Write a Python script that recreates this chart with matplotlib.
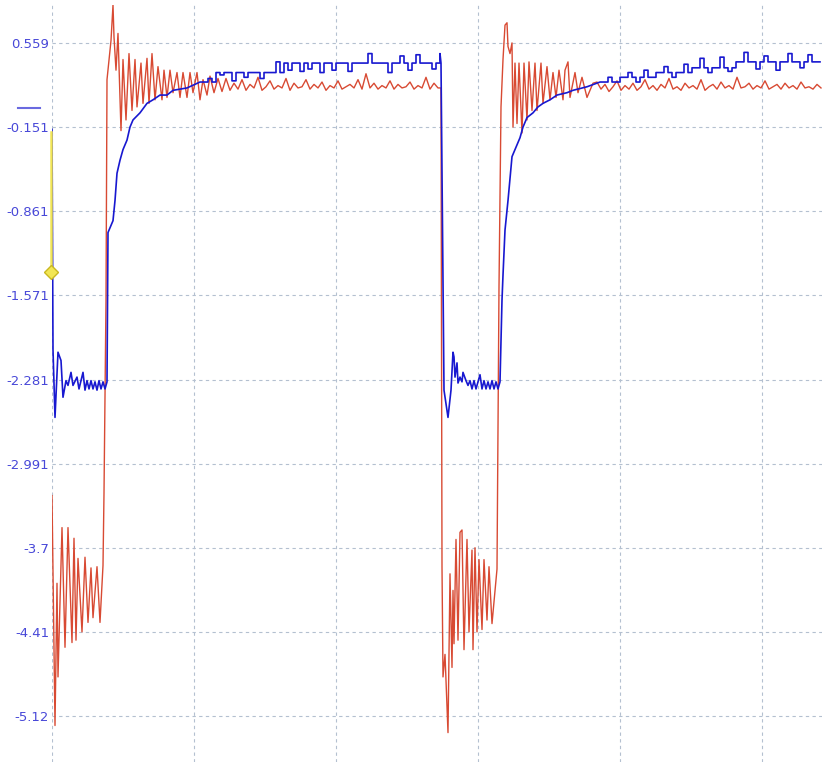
import numpy as np
import matplotlib
matplotlib.use("Agg")
import matplotlib.pyplot as plt

# y tick labels as shown on the scope (volts)
y_ticks = [0.559, -0.151, -0.861, -1.571, -2.281, -2.991, -3.7, -4.41, -5.12]
y_labels = ["0.559", "-0.151", "-0.861", "-1.571", "-2.281", "-2.991", "-3.7", "-4.41", "-5.12"]
x_grid = [0, 142, 284, 426, 568, 710]  # sample index of vertical divisions

# red channel: transients (sample, value)
red_edge1_t = [0, 3, 5, 6, 10, 13, 16, 20, 22, 24, 26, 30, 33, 36, 39, 41, 45, 48, 51, 52, 54,
               55, 59, 61, 62, 64, 66, 69, 71, 74, 77, 80, 83, 85, 89, 91, 95, 97, 100, 103,
               106, 110, 112, 115, 118, 121, 125, 128, 131, 135, 138, 141, 145, 148, 151,
               155, 158, 162, 166, 170, 174, 178]
red_edge1_v = [-3.26, -5.20, -4.00, -4.79, -3.53, -4.54, -3.53, -4.50, -3.62, -4.48, -3.79,
               -4.41, -3.78, -4.33, -3.87, -4.29, -3.86, -4.33, -3.85, -3.24, -1.61,
               0.25, 0.58, 0.88, 0.61, 0.33, 0.64, -0.18, 0.42, -0.09, 0.47, -0.01, 0.42,
               0.02, 0.39, 0.05, 0.43, 0.05, 0.47, 0.08, 0.36, 0.08, 0.33, 0.10, 0.33, 0.14,
               0.31, 0.10, 0.31, 0.10, 0.31, 0.14, 0.31, 0.08, 0.25, 0.12, 0.28, 0.14, 0.26,
               0.15, 0.26, 0.16]
red_flat1 = [0.22, 0.17, 0.25, 0.16, 0.21, 0.18, 0.27, 0.16, 0.19, 0.24,
             0.17, 0.20, 0.18, 0.26, 0.16, 0.22, 0.18, 0.19, 0.25, 0.17,
             0.21, 0.18, 0.23, 0.16, 0.20, 0.18, 0.24, 0.17, 0.19, 0.21,
             0.18, 0.25, 0.17, 0.30, 0.18, 0.22, 0.17, 0.20, 0.18, 0.24,
             0.17, 0.21, 0.18, 0.19, 0.23, 0.17, 0.20, 0.18, 0.27, 0.17,
             0.22, 0.18]
red_edge2_t = [389, 390, 391, 393, 396, 398, 400, 401, 402, 404, 406, 408, 410, 412, 415,
               417, 420, 421, 423, 425, 427, 430, 432, 435, 437, 440, 443, 445, 446, 447,
               449, 451, 453, 455, 456, 458, 460, 461, 463, 465, 467, 470, 472, 475, 477,
               480, 483, 485, 489, 491, 495, 498, 501, 504, 507, 511, 513, 516, 518, 523,
               526, 530, 535, 541]
red_edge2_v = [0.18, -3.86, -4.79, -4.60, -5.26, -3.92, -4.71, -4.06, -4.51, -3.63, -4.48,
               -3.57, -3.55, -4.56, -3.63, -4.41, -3.72, -4.56, -3.70, -4.41, -3.80, -4.39,
               -3.80, -4.31, -3.86, -4.34, -4.06, -3.88, -2.62, -1.50,
               0.02, 0.42, 0.71, 0.73, 0.53, 0.47, 0.56, -0.15, 0.39, -0.12, 0.39, -0.20,
               0.39, -0.09, 0.40, -0.01, 0.39, -0.01, 0.39, 0.05, 0.36, 0.08, 0.31, 0.10,
               0.33, 0.08, 0.33, 0.40, 0.10, 0.31, 0.14, 0.27, 0.10, 0.22]
red_flat2 = [0.23, 0.17, 0.21, 0.15, 0.19, 0.24, 0.16, 0.20, 0.17, 0.22,
             0.16, 0.19, 0.25, 0.17, 0.20, 0.16, 0.21, 0.18, 0.26, 0.17,
             0.19, 0.16, 0.22, 0.18, 0.20, 0.17, 0.25, 0.16, 0.19, 0.21,
             0.17, 0.23, 0.18, 0.20, 0.17, 0.27, 0.18, 0.19, 0.22, 0.17,
             0.20, 0.18, 0.24, 0.17, 0.19, 0.21, 0.17, 0.22, 0.18, 0.20,
             0.17, 0.23, 0.18, 0.19, 0.17, 0.21, 0.18]

# blue channel
blue_edge1_t = [0, 1, 3, 6, 9, 11, 14, 16, 19, 21, 25, 27, 31, 33, 35, 37, 39, 41, 43, 45,
                47, 49, 51, 53, 55, 56, 61, 63, 65, 68, 71, 75, 78, 81, 88, 95, 101, 108,
                115, 121, 135]
blue_edge1_v = [-0.17, -2.03, -2.60, -2.05, -2.12, -2.43, -2.29, -2.33, -2.22, -2.33, -2.26,
                -2.36, -2.22, -2.37, -2.29, -2.36, -2.29, -2.36, -2.30, -2.37, -2.29, -2.36,
                -2.30, -2.36, -2.30, -1.04, -0.94, -0.77, -0.54, -0.43, -0.34, -0.26, -0.15,
                -0.09, -0.03, 0.05, 0.08, 0.12, 0.12, 0.16, 0.18]
blue_flat1 = [0.23, 0.23, 0.26, 0.23,
              0.31, 0.29, 0.31, 0.31, 0.24, 0.31, 0.31, 0.27, 0.31, 0.31, 0.31, 0.26, 0.31,
              0.31, 0.31, 0.40, 0.31,
              0.39, 0.33, 0.39, 0.39, 0.32, 0.39, 0.34, 0.39, 0.39, 0.31,
              0.39, 0.39, 0.33, 0.39, 0.39, 0.39, 0.32, 0.39, 0.39, 0.39,
              0.39, 0.47, 0.39, 0.39, 0.39, 0.39, 0.31, 0.39, 0.39, 0.45,
              0.39, 0.33, 0.39, 0.46, 0.39, 0.39, 0.39, 0.34, 0.39, 0.47]
blue_edge2_t = [389, 392, 396, 399, 401, 402, 403, 405, 406, 408, 410, 411, 414, 416,
                418, 420, 422, 424, 426, 428, 430, 432, 434, 436, 438, 440, 442, 444, 446, 448,
                450, 451, 453, 456, 460, 468, 471, 475, 481, 486, 491, 498, 505, 515, 521, 535]
blue_edge2_v = [0.39, -2.37, -2.60, -2.37, -2.05, -2.09, -2.26, -2.14, -2.31, -2.26, -2.30,
                -2.22, -2.29, -2.33,
                -2.29, -2.36, -2.29, -2.36, -2.30, -2.24, -2.36, -2.29, -2.36, -2.30, -2.36,
                -2.29, -2.36, -2.30, -2.36, -2.30,
                -1.61, -1.40, -1.02, -0.77, -0.40, -0.24, -0.15, -0.07, -0.03, 0.02, 0.05,
                0.08, 0.12, 0.14, 0.16, 0.19]
blue_flat2 = [0.23, 0.23, 0.27, 0.23, 0.23,
              0.27, 0.27, 0.31, 0.27, 0.23, 0.27, 0.33, 0.27, 0.27,
              0.31, 0.31, 0.36, 0.31, 0.27, 0.31, 0.31, 0.38, 0.31,
              0.35, 0.35, 0.43, 0.35, 0.31, 0.35, 0.35, 0.44, 0.35, 0.32, 0.35,
              0.40, 0.40, 0.48, 0.40, 0.40, 0.34, 0.40, 0.45, 0.40, 0.40, 0.33,
              0.40, 0.40, 0.47, 0.40, 0.40, 0.35, 0.40, 0.46, 0.40, 0.40, 0.40]

STEP = 4  # sample spacing of the flat sections


def flat(values, start, stepped):
    t = start + STEP * np.arange(len(values))
    v = np.asarray(values, dtype=float)
    if stepped:
        # hold each sample until the next one (quantised look of the blue channel)
        t = np.repeat(t, 2)[1:]
        v = np.repeat(v, 2)[:-1]
    return t, v


def trace(edge1_t, edge1_v, flat1, start1, edge2_t, edge2_v, flat2, start2, stepped=False):
    f1t, f1v = flat(flat1, start1, stepped)
    f2t, f2v = flat(flat2, start2, stepped)
    t = np.concatenate([edge1_t, f1t, edge2_t, f2t])
    v = np.concatenate([edge1_v, f1v, edge2_v, f2v])
    return t, v


red_t, red_v = trace(red_edge1_t, red_edge1_v, red_flat1, 182,
                     red_edge2_t, red_edge2_v, red_flat2, 545)
blue_t, blue_v = trace(blue_edge1_t, blue_edge1_v, blue_flat1, 148,
                       blue_edge2_t, blue_edge2_v, blue_flat2, 548, stepped=True)

fig = plt.figure(figsize=(8.22, 7.62), dpi=100)
ax = fig.add_axes([52 / 822, 0, 770 / 822, 757 / 762])

ax.plot(red_t, red_v, color="#d84a33", lw=1.0, zorder=3)
ax.plot(blue_t, blue_v, color="#1818d0", lw=1.2, zorder=4)

# trigger marker and channel level marker
ax.plot([-1.3, -1.3], [-0.19, -1.374], color="#f2e654", lw=1.8, zorder=5, clip_on=False)
ax.plot([-1.3], [-1.374], marker="D", ms=7, mfc="#f2e654", mec="#c9b820",
        zorder=6, clip_on=False)
ax.plot([-34, -12], [0.01, 0.01], color="#6a6ae0", lw=1.5, clip_on=False)

ax.set_xlim(0, 770)
ax.set_ylim(-5.508, 0.880)
ax.set_xticks(x_grid)
ax.set_xticklabels([])
ax.set_yticks(y_ticks)
ax.set_yticklabels(y_labels)
ax.tick_params(length=0, pad=2)
for lab in ax.get_yticklabels():
    lab.set_color("#4848d8")
    lab.set_fontsize(9.5)

ax.grid(True, color="#b4c0d0", lw=0.8, linestyle=(0, (3, 3)))
for s in ax.spines.values():
    s.set_visible(False)

fig.savefig("out.png", dpi=100)
